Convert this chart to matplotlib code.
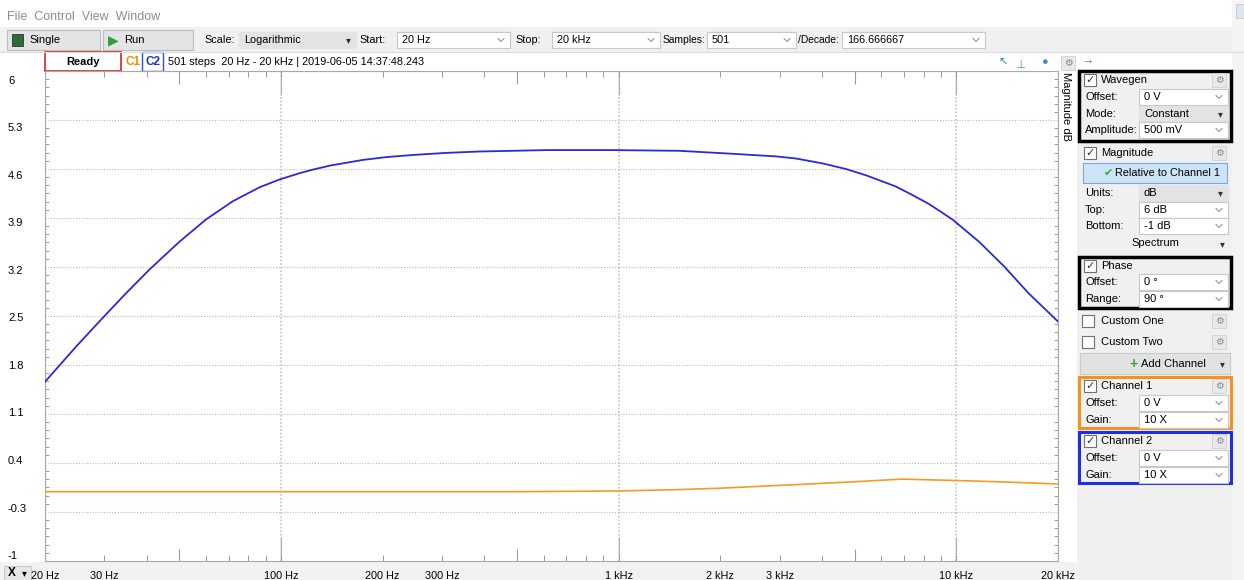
import matplotlib
matplotlib.use('Agg')
import matplotlib.pyplot as plt
from matplotlib.patches import Rectangle
from matplotlib.ticker import LogLocator, MultipleLocator, NullFormatter, NullLocator
import numpy as np

plt.rcParams['font.family'] = ['Liberation Sans', 'DejaVu Sans']

# Channel 2 magnitude (relative to channel 1)
freq_c2 = [20, 24.8, 30, 35, 40.9, 50, 60, 72, 86.5, 99, 113.5, 124, 140, 175, 205, 245, 308,
           387, 611, 958, 1512, 2126, 2926, 3350, 4016, 4710, 5400, 6620, 7400, 8300, 9730,
           11680, 13840, 16400, 19230, 20000]
mag_c2 = [1.56, 2.07, 2.50, 2.84, 3.17, 3.56, 3.88, 4.14, 4.34, 4.45, 4.54, 4.59, 4.65, 4.73,
          4.77, 4.80, 4.83, 4.85, 4.87, 4.87, 4.86, 4.82, 4.78, 4.75, 4.68, 4.60, 4.51, 4.35,
          4.23, 4.10, 3.88, 3.56, 3.21, 2.82, 2.50, 2.42]

# Channel 1 trace
freq_c1 = [20, 100, 500, 1000, 1500, 2000, 3000, 4900, 6900, 10000, 13650, 20000]
mag_c1 = [-0.01, -0.01, -0.01, 0.0, 0.02, 0.04, 0.08, 0.13, 0.17, 0.15, 0.13, 0.10]

y_ticks = [6, 5.3, 4.6, 3.9, 3.2, 2.5, 1.8, 1.1, 0.4, -0.3, -1]
y_labels = ['6', '5.3', '4.6', '3.9', '3.2', '2.5', '1.8', '1.1', '0.4', '-0.3', '-1']
x_ticks = [20, 30, 100, 200, 300, 1000, 2000, 3000, 10000, 20000]
x_labels = ['20 Hz', '30 Hz', '100 Hz', '200 Hz', '300 Hz', '1 kHz', '2 kHz', '3 kHz', '10 kHz', '20 kHz']
decades = [100, 1000, 10000]
halves = [50, 500, 5000]

W, H = 1244, 580
fig = plt.figure(figsize=(W / 100, H / 100), dpi=100)
fig.patch.set_facecolor('white')

# full-figure overlay in pixel coords for the window chrome
ui = fig.add_axes([0, 0, 1, 1])
ui.set_xlim(0, W)
ui.set_ylim(H, 0)
ui.axis('off')

FS = 8
TB = 7.8  # toolbar font


def box(x, y, w, h, fc='white', ec='#b4b4b4', lw=0.8, z=1):
    ui.add_patch(Rectangle((x, y), w, h, facecolor=fc, edgecolor=ec, linewidth=lw, zorder=z))


def txt(x, y, s, **kw):
    kw.setdefault('fontsize', FS)
    kw.setdefault('va', 'center')
    kw.setdefault('zorder', 3)
    ui.text(x, y, s, **kw)


def chevron(x, y):
    ui.plot([x - 3, x, x + 3], [y - 1.5, y + 1.5, y - 1.5], color='#8a8a8a', lw=0.7, zorder=3)


def combo(x, y, w, s, gray=False, fs=FS):
    if gray:
        box(x, y - 8, w, 16, fc='#e3e3e3', ec='#e3e3e3')
        txt(x + w - 8, y, '\u25BE', ha='center', fontsize=7, color='#333333')
    else:
        box(x, y - 8, w, 16, fc='white', ec='#c8c8c8')
        chevron(x + w - 9, y)
    txt(x + 5, y, s, fontsize=fs)


def checkbox(x, y, checked=True):
    box(x, y - 6, 12, 12, fc='white', ec='#707070', lw=0.8)
    if checked:
        txt(x + 6, y, '\u2713', ha='center', fontsize=8, color='#333333')


def gear(x, y):
    box(x, y - 7, 14, 14, fc='#e8e8e8', ec='#d0d0d0', lw=0.6)
    txt(x + 7, y, '\u2699', ha='center', fontsize=7, color='#7a8ca0')


# backgrounds
box(0, 27, W, 25, fc='#f0f0f0', ec='#f0f0f0', lw=0, z=0)
ui.plot([0, W], [51.5, 51.5], color='#dcdcdc', lw=0.8)
box(1077, 71, 155, H - 71, fc='#f0f0f0', ec='#f0f0f0', lw=0, z=0)
box(1232, 0, 12, H, fc='#f4f4f4', ec='#f4f4f4', lw=0, z=0)
box(1236, 4, 8, 14, fc='#dde6ef', ec='#c0c8d0', lw=0.6)
box(0, 562, 1077, 18, fc='#f2f2f2', ec='#f2f2f2', lw=0, z=0)

# menu bar
txt(7, 17, 'File  Control  View  Window', fontsize=9, color='#8c8c8c')

# toolbar
box(7, 30, 93, 20, fc='#e4e4e4', ec='#bcbcbc')
box(12, 34, 11, 12, fc='#2f6b3a', ec='#1e3d24', lw=0.6, z=2)
txt(29, 40, 'Single', fontsize=8)
box(103, 30, 90, 20, fc='#e4e4e4', ec='#bcbcbc')
txt(108, 40, '\u25B6', fontsize=10, color='#2e9e3e')
txt(124, 40, 'Run', fontsize=8)
txt(204, 40, 'Scale:', fontsize=TB)
combo(239, 40, 117, 'Logarithmic', gray=True, fs=TB)
txt(359, 40, 'Start:', fontsize=TB)
combo(397, 40, 113, '20 Hz', fs=TB)
txt(515, 40, 'Stop:', fontsize=TB)
combo(552, 40, 108, '20 kHz', fs=TB)
txt(663, 40, 'Samples:', fontsize=7.4)
combo(707, 40, 89, '501', fs=TB)
txt(798, 40, '/Decade:', fontsize=7.4)
combo(842, 40, 143, '166.666667', fs=TB)

# status row
box(45, 52, 76, 19, fc='white', ec='#e03030', lw=1.3)
txt(83, 62, 'Ready', ha='center', fontweight='bold')
txt(126, 62, 'C1', color='#f08c00', fontweight='bold', fontsize=8.5)
box(142, 52, 21, 19, fc='white', ec='#3050e0', lw=1.0)
txt(152.5, 62, 'C2', ha='center', color='#2030d0', fontweight='bold', fontsize=8.5)
txt(168, 62, '501 steps  20 Hz - 20 kHz | 2019-06-05 14:37:48.243', fontsize=7.8)

# small toolbar icons above the plot
txt(1003, 63, '\u2196', ha='center', fontsize=8, color='#3a7bd5')
txt(1022, 63, '\u22A2', ha='center', fontsize=8, color='#3a7bd5', rotation=90)
txt(1044, 62, '\u25CF', ha='center', fontsize=8, color='#4a86c8')
gear(1061, 63)
txt(1088, 62, '\u2192', ha='center', fontsize=9, color='#3aa040', fontweight='bold')

# vertical axis name
txt(1066, 106, 'Magnitude dB', ha='center', rotation=-90, fontsize=8)

# right panel
LX, VX, VW = 1085, 1139, 89

# Wavegen
box(1079, 71, 152, 70, fc='#f0f0f0', ec='black', lw=2.5)
checkbox(1084, 80)
txt(1101, 80, 'Wavegen')
gear(1212, 80)
txt(LX, 97, 'Offset:')
combo(VX, 97, VW, '0 V')
txt(LX, 114, 'Mode:')
combo(VX, 114, VW, 'Constant', gray=True)
txt(LX, 130, 'Amplitude:')
combo(VX, 130, VW, '500 mV')

# Magnitude
checkbox(1084, 153)
txt(1101, 153, 'Magnitude')
gear(1212, 153)
box(1083, 163, 144, 20, fc='#cde4f7', ec='#78acd8', lw=0.8)
txt(1104, 173, '\u2714', fontsize=8, color='#3aa040')
txt(1115, 173, 'Relative to Channel 1', fontsize=7.8)
txt(LX, 193, 'Units:')
combo(VX, 193, VW, 'dB', gray=True)
txt(LX, 210, 'Top:')
combo(VX, 210, VW, '6 dB')
txt(LX, 226, 'Bottom:')
combo(VX, 226, VW, '-1 dB')
txt(1155, 243, 'Spectrum', ha='center')
txt(1222, 244, '\u25BE', ha='center', fontsize=7, color='#333333')

# Phase
box(1079, 257, 152, 51, fc='#f0f0f0', ec='black', lw=2.5)
checkbox(1084, 266)
txt(1101, 266, 'Phase')
txt(LX, 282, 'Offset:')
combo(VX, 282, VW, '0 \u00b0')
txt(LX, 299, 'Range:')
combo(VX, 299, VW, '90 \u00b0')

# custom channels
checkbox(1082, 321, checked=False)
txt(1101, 321, 'Custom One')
gear(1212, 321)
checkbox(1082, 342, checked=False)
txt(1101, 342, 'Custom Two')
gear(1212, 342)
box(1080, 353, 150, 21, fc='#e2e2e2', ec='#cacaca', lw=0.8)
txt(1133, 364, '+', color='#3aa040', fontweight='bold', fontsize=10, ha='center')
txt(1141, 364, 'Add Channel')
txt(1222, 364, '\u25BE', ha='center', fontsize=7, color='#333333')

# Channel 1 / Channel 2
for top, name, col in [(377, 'Channel 1', '#f39220'), (432, 'Channel 2', '#1f2fe0')]:
    box(1079, top, 152, 51, fc='#f0f0f0', ec=col, lw=2.2)
    checkbox(1084, top + 9)
    txt(1101, top + 9, name)
    gear(1212, top + 9)
    txt(LX, top + 26, 'Offset:')
    combo(VX, top + 26, VW, '0 V')
    txt(LX, top + 43, 'Gain:')
    combo(VX, top + 43, VW, '10 X')

# x axis selector bottom-left
box(4, 566, 27, 14, fc='#e6e6e6', ec='#c0c0c0', lw=0.6)
txt(12, 573, 'X', ha='center', fontweight='bold', fontsize=8.5)
txt(24, 573, '\u25BE', ha='center', fontsize=7)

# ---- main plot ----
ax = fig.add_axes([45 / W, 1 - 561 / H, 1013 / W, 490 / H])
ax.set_facecolor('white')
ax.set_zorder(2)
ax.plot(freq_c1, mag_c1, color='#f59a23', lw=1.2, zorder=3)
ax.plot(freq_c2, mag_c2, color='#2a2ad6', lw=1.3, zorder=4)
ax.set_xscale('log')
ax.set_xlim(20, 20000)
ax.set_ylim(-1, 6)

ax.set_yticks(y_ticks)
ax.set_yticklabels([])
ax.grid(axis='y', which='major', color='#b8b8b8', linestyle=(0, (1, 1.5)), lw=0.8)
for d in decades:
    ax.axvline(d, color='#cccccc', lw=1.3, linestyle=(0, (1, 1)), zorder=1)
ax.yaxis.set_minor_locator(MultipleLocator(0.7 / 6, offset=6))
ax.tick_params(axis='y', which='major', length=0)
ax.tick_params(axis='y', which='minor', direction='in', length=3, left=True, right=True,
               color='#9a9a9a', width=0.7)

ax.set_xticks(x_ticks, x_labels)
ax.xaxis.set_minor_locator(LogLocator(base=10, subs=np.arange(1, 10), numticks=30))
ax.xaxis.set_minor_formatter(NullFormatter())
ax.xaxis.remove_overlapping_locs = False
ax.tick_params(axis='x', which='major', length=0, pad=7, labelsize=7.8)
ax.tick_params(axis='x', which='minor', direction='in', length=4, top=True, bottom=True,
               color='#9a9a9a', width=0.7)
for sp in ax.spines.values():
    sp.set_color('#a8a8a8')
    sp.set_linewidth(0.8)

# longer tick marks at 5x and decades
for pos, ln in [(halves, 9), (decades, 17)]:
    for side in ('bottom', 'top'):
        sec = ax.secondary_xaxis(side)
        sec.set_xticks(pos)
        sec.xaxis.set_minor_locator(NullLocator())
        sec.tick_params(which='both', direction='in', length=ln, color='#9a9a9a', width=0.8,
                        labelbottom=False, labeltop=False)
        for sp in sec.spines.values():
            sp.set_visible(False)

# y tick labels (laid out slightly inside the grid range like the original)
lab = fig.add_axes([45 / W, 1 - 555 / H, 0.001, 475 / H])
lab.set_zorder(3)
lab.patch.set_visible(False)
lab.set_frame_on(False)
lab.set_ylim(-1, 6)
lab.set_xticks([])
lab.set_yticks(y_ticks, y_labels)
lab.tick_params(axis='y', length=0, pad=37 * 0.72, labelsize=FS)
for t in lab.get_yticklabels():
    t.set_horizontalalignment('left')

fig.savefig('out.png', dpi=100)
